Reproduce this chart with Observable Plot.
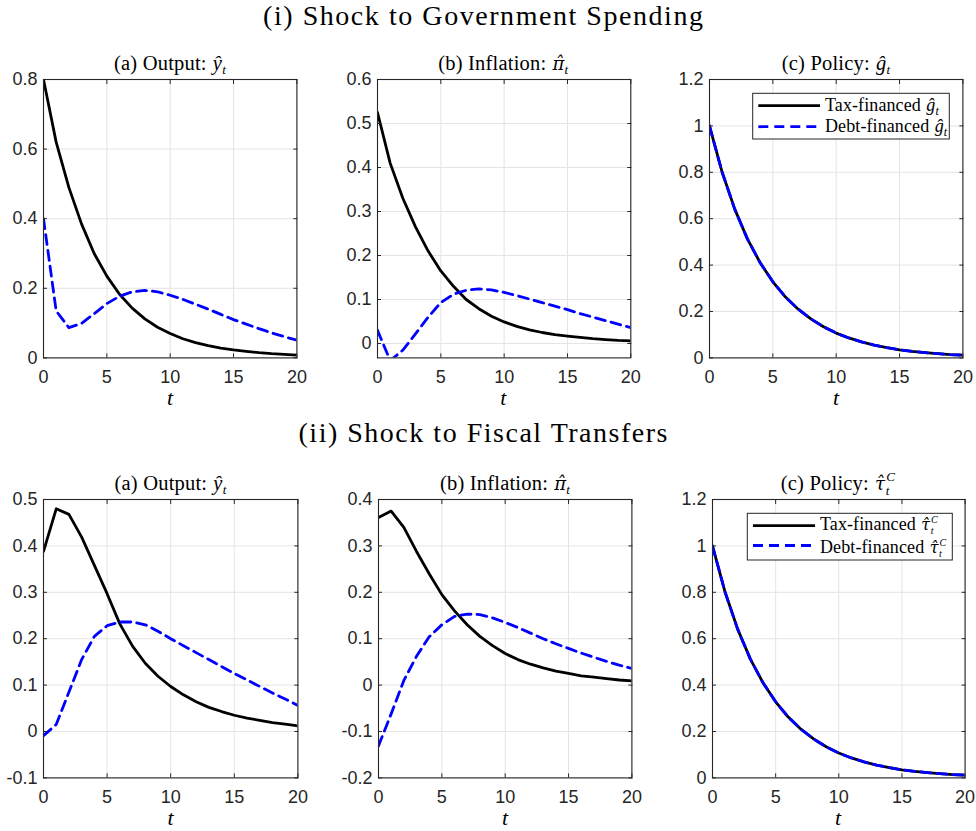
<!DOCTYPE html>
<html><head><meta charset="utf-8">
<script src="https://cdn.jsdelivr.net/npm/d3@7"></script>
<script src="https://cdn.jsdelivr.net/npm/@observablehq/plot@0.6"></script>
<style>
body{margin:0;background:#fff;}
#fig{position:relative;width:976px;height:831px;overflow:hidden;background:#fff;}
#overlay{position:absolute;left:0;top:0;pointer-events:none;}
.serif{font-family:'Liberation Serif','Times New Roman',serif;fill:#000;}
</style></head><body><div id="fig"></div>
<script>
// ---- data ----
const tSteps = [0,1,2,3,4,5,6,7,8,9,10,11,12,13,14,15,16,17,18,19,20];
const xTicks = [0,5,10,15,20];

// (i) Shock to Government Spending
const gsOutputTax  = [0.8,0.62,0.49,0.385,0.30,0.235,0.183,0.143,0.112,0.088,0.07,0.055,0.044,0.035,0.028,0.023,0.019,0.015,0.012,0.01,0.008];
const gsOutputDebt = [0.4,0.135,0.087,0.099,0.127,0.156,0.177,0.19,0.194,0.19,0.18,0.168,0.154,0.14,0.125,0.11,0.097,0.084,0.072,0.061,0.051];
const gsInflTax    = [0.525,0.41,0.33,0.265,0.21,0.165,0.13,0.1,0.079,0.062,0.049,0.039,0.031,0.025,0.02,0.017,0.014,0.011,0.009,0.007,0.006];
const gsInflDebt   = [0.03,-0.039,-0.015,0.022,0.06,0.093,0.112,0.121,0.124,0.122,0.116,0.109,0.101,0.093,0.085,0.077,0.068,0.06,0.052,0.044,0.036];
const gsPolicyTax  = [1,0.8,0.64,0.512,0.41,0.328,0.262,0.21,0.168,0.134,0.107,0.086,0.069,0.055,0.044,0.035,0.028,0.023,0.018,0.014,0.012];
const gsPolicyDebt = [1,0.8,0.64,0.512,0.41,0.328,0.262,0.21,0.168,0.134,0.107,0.086,0.069,0.055,0.044,0.035,0.028,0.023,0.018,0.014,0.012];

// (ii) Shock to Fiscal Transfers
const trOutputTax  = [0.388,0.48,0.468,0.419,0.358,0.297,0.232,0.184,0.147,0.119,0.097,0.079,0.064,0.052,0.043,0.035,0.029,0.024,0.019,0.016,0.012];
const trOutputDebt = [-0.009,0.015,0.085,0.155,0.205,0.228,0.236,0.236,0.23,0.216,0.2,0.185,0.17,0.155,0.14,0.125,0.111,0.097,0.083,0.07,0.056];
const trInflTax    = [0.361,0.375,0.34,0.288,0.24,0.195,0.16,0.13,0.105,0.085,0.068,0.055,0.045,0.037,0.03,0.025,0.02,0.017,0.014,0.011,0.009];
const trInflDebt   = [-0.131,-0.062,0.01,0.062,0.104,0.13,0.148,0.153,0.152,0.145,0.135,0.124,0.112,0.1,0.089,0.079,0.069,0.06,0.051,0.043,0.036];
const trPolicyTax  = [1,0.8,0.64,0.512,0.41,0.328,0.262,0.21,0.168,0.134,0.107,0.086,0.069,0.055,0.044,0.035,0.028,0.023,0.018,0.014,0.012];
const trPolicyDebt = [1,0.8,0.64,0.512,0.41,0.328,0.262,0.21,0.168,0.134,0.107,0.086,0.069,0.055,0.044,0.035,0.028,0.023,0.018,0.014,0.012];

// y tick labels per panel
const yTicksOutG = [0,0.2,0.4,0.6,0.8];
const yTicksInfG = [0,0.1,0.2,0.3,0.4,0.5,0.6];
const yTicksPol  = [0,0.2,0.4,0.6,0.8,1,1.2];
const yTicksOutT = [-0.1,0,0.1,0.2,0.3,0.4,0.5];
const yTicksInfT = [-0.2,-0.1,0,0.1,0.2,0.3,0.4];

const sectionTitles = ["(i) Shock to Government Spending", "(ii) Shock to Fiscal Transfers"];
const legendLabels = ["Tax-financed", "Debt-financed"];

// ---- drawing ----
const fig = document.getElementById("fig");
const fmt = d => String(Math.round(d * 10) / 10);
const DASH = "10,6";
const LW = 2.8;

function panel({tax, debt, yDomain, yTicks, left, top, width, height}) {
  const mL = 60, mR = 20, mT = 10, mB = 40;
  const data = tSteps.map((t, i) => ({t, tax: tax[i], debt: debt[i]}));
  const svg = Plot.plot({
    width: width + mL + mR,
    height: height + mT + mB,
    marginLeft: mL, marginRight: mR, marginTop: mT, marginBottom: mB,
    x: {domain: [0, 20]},
    y: {domain: yDomain},
    style: {fontFamily: "'Liberation Sans', Arial, sans-serif", fontSize: "18px", color: "#262626", background: "none", overflow: "visible"},
    marks: [
      Plot.gridX(xTicks, {stroke: "#e4e4e4", strokeOpacity: 1}),
      Plot.gridY(yTicks, {stroke: "#e4e4e4", strokeOpacity: 1}),
      Plot.line(data, {x: "t", y: "tax", stroke: "#000", strokeWidth: LW, clip: true}),
      Plot.line(data, {x: "t", y: "debt", stroke: "#0000ff", strokeWidth: LW, strokeDasharray: DASH, clip: true}),
      Plot.frame({stroke: "#262626", strokeWidth: 1.1}),
      Plot.axisX(xTicks, {anchor: "bottom", tickSize: -4, tickPadding: 16, tickFormat: fmt, label: null, stroke: "#262626"}),
      Plot.axisX(xTicks, {anchor: "top", tickSize: -4, tickFormat: () => "", label: null, stroke: "#262626"}),
      Plot.axisY(yTicks, {anchor: "left", tickSize: -4, tickPadding: 10, tickFormat: fmt, label: null, stroke: "#262626"}),
      Plot.axisY(yTicks, {anchor: "right", tickSize: -4, tickFormat: () => "", label: null, stroke: "#262626"})
    ]
  });
  svg.style.position = "absolute";
  svg.style.left = (left - mL) + "px";
  svg.style.top = (top - mT) + "px";
  fig.appendChild(svg);
}

const H = 278.4;
panel({tax: gsOutputTax, debt: gsOutputDebt, yDomain: [0, 0.8], yTicks: yTicksOutG, left: 43.3, top: 79.3, width: 253.4, height: H});
panel({tax: gsInflTax, debt: gsInflDebt, yDomain: [-0.0327, 0.6], yTicks: yTicksInfG, left: 376.7, top: 79.3, width: 253.3, height: H});
panel({tax: gsPolicyTax, debt: gsPolicyDebt, yDomain: [0, 1.2], yTicks: yTicksPol, left: 709.3, top: 79.3, width: 253.4, height: H});
panel({tax: trOutputTax, debt: trOutputDebt, yDomain: [-0.1, 0.5], yTicks: yTicksOutT, left: 43.3, top: 499.3, width: 254.4, height: H});
panel({tax: trInflTax, debt: trInflDebt, yDomain: [-0.2, 0.4], yTicks: yTicksInfT, left: 378.3, top: 499.3, width: 253.4, height: H});
panel({tax: trPolicyTax, debt: trPolicyDebt, yDomain: [0, 1.2], yTicks: yTicksPol, left: 711.7, top: 499.3, width: 252.6, height: H});

// ---- text overlay ----
const ov = d3.select(fig).append("svg").attr("id", "overlay").attr("width", 976).attr("height", 831);

// section titles
ov.append("text").attr("class", "serif").attr("x", 483).attr("y", 25).attr("text-anchor", "middle")
  .attr("font-size", 28).attr("textLength", 440).attr("lengthAdjust", "spacing").text(sectionTitles[0]);
ov.append("text").attr("class", "serif").attr("x", 483).attr("y", 442).attr("text-anchor", "middle")
  .attr("font-size", 28).attr("textLength", 369).attr("lengthAdjust", "spacing").text(sectionTitles[1]);

// math-like label: prefix, italic hatted symbol, subscript t, optional superscript C
function mathText(sel, x, y, size, prefix, sym, opt) {
  const tx = sel.append("text").attr("class", "serif").attr("x", x).attr("y", y)
    .attr("text-anchor", opt.anchor).attr("font-size", size).attr("letter-spacing", opt.ls || 0);
  tx.append("tspan").text(prefix);
  const st = tx.append("tspan").attr("font-style", "italic").attr("dx", size * 0.3).text(sym);
  if (opt.comb) st.attr("font-family", "'DejaVu Serif', serif").attr("font-size", size * 0.88);
  const s = Math.round(size * (opt.scale || 0.64));
  if (opt.sup) {
    const up = opt.up || 0.42, down = opt.down || 0.68;
    tx.append("tspan").attr("font-style", "italic").attr("font-size", s).attr("dx", size * 0.05).attr("dy", -size * up).text("C");
    tx.append("tspan").attr("font-style", "italic").attr("font-size", s).attr("dx", -s * 0.72).attr("dy", size * down).text("t");
  } else {
    tx.append("tspan").attr("font-style", "italic").attr("font-size", s).attr("dy", size * 0.2).text("t");
  }
  return tx;
}

const HAT = "\u0302";
const titles = [
  {cx: 170, y: 70, pre: "(a) Output:", sym: "ŷ"},
  {cx: 503.3, y: 70, pre: "(b) Inflation:", sym: "π" + HAT, comb: true},
  {cx: 836, y: 70, pre: "(c) Policy:", sym: "ĝ"},
  {cx: 170.5, y: 489.5, pre: "(a) Output:", sym: "ŷ"},
  {cx: 505, y: 489.5, pre: "(b) Inflation:", sym: "π" + HAT, comb: true},
  {cx: 838, y: 489.5, pre: "(c) Policy:", sym: "τ" + HAT, comb: true, sup: true}
];
titles.forEach(d => mathText(ov, d.cx, d.y, 20.5, d.pre, d.sym, {anchor: "middle", comb: d.comb, sup: d.sup, ls: 0.2}));

// x labels "t"
[[170, 405], [503.3, 405], [836, 405], [170.5, 825], [505, 825], [838, 825]].forEach(([x, y]) => {
  ov.append("text").attr("class", "serif").attr("x", x).attr("y", y).attr("text-anchor", "middle")
    .attr("font-size", 22).attr("font-style", "italic").text("t");
});

// legends
function legend(bx, by, bw, bh, rows, lx1, lx2, tx, sym, opt, shift) {
  ov.append("rect").attr("x", bx).attr("y", by).attr("width", bw).attr("height", bh)
    .attr("fill", "#fff").attr("stroke", "#262626").attr("stroke-width", 1);
  ov.append("line").attr("x1", lx1).attr("x2", lx2).attr("y1", rows[0]).attr("y2", rows[0])
    .attr("stroke", "#000").attr("stroke-width", LW);
  ov.append("line").attr("x1", lx1).attr("x2", lx2).attr("y1", rows[1]).attr("y2", rows[1])
    .attr("stroke", "#0000ff").attr("stroke-width", LW).attr("stroke-dasharray", DASH);
  legendLabels.forEach((lab, i) => {
    mathText(ov, tx, rows[i] + 5.5 + (i ? shift : -shift), 18, lab, sym, Object.assign({anchor: "start", ls: 0.1}, opt));
  });
}
legend(752.7, 93.3, 196.6, 45.7, [105.7, 126.7], 758.3, 820, 825, "ĝ", {}, 0);
legend(747.3, 513.3, 205, 46.7, [525.7, 545.5], 753, 815, 820, "τ" + HAT,
  {comb: true, sup: true, scale: 0.53, up: 0.38, down: 0.64}, 1.5);
</script></body></html>
